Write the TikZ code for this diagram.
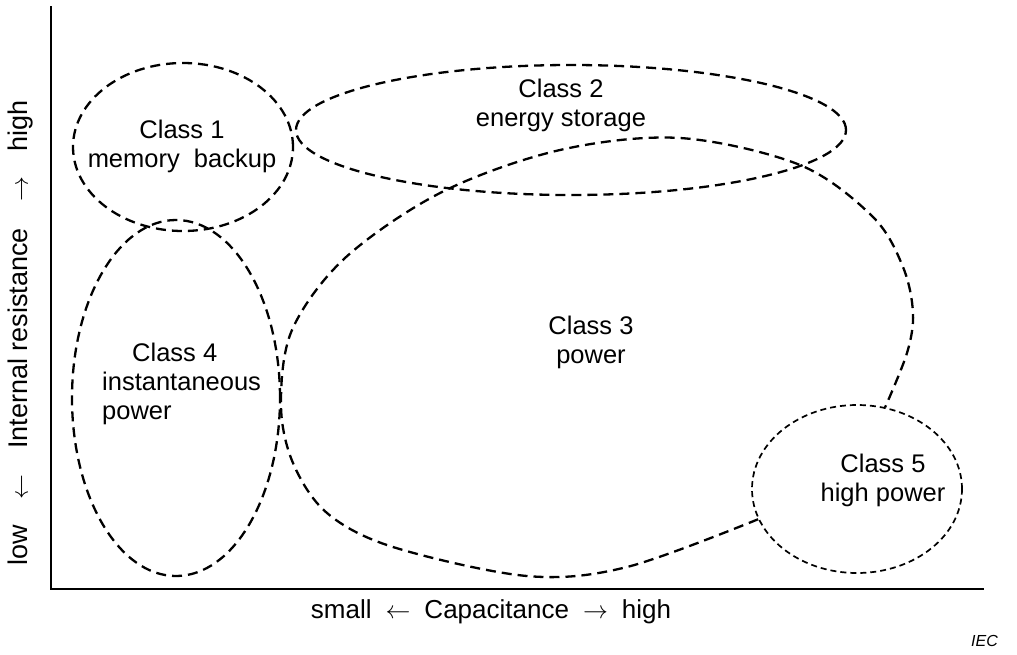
\documentclass[tikz,border=0pt]{standalone}
\usepackage{fontspec}
\setmainfont{Liberation Sans}
\usetikzlibrary{shapes.geometric}
\begin{document}
\begin{tikzpicture}[x=1pt,y=-1pt,
  region/.style={draw, ellipse, line width=2.3pt, dash pattern=on 10pt off 6pt, inner sep=0pt},
  fineregion/.style={draw, ellipse, line width=1.7pt, dash pattern=on 6pt off 4pt, inner sep=0pt},
  regionline/.style={line width=2.3pt, dash pattern=on 10pt off 6pt},
  lbl/.style={font=\fontsize{25.5}{29}\selectfont, align=center, inner sep=0pt},
  axlbl/.style={font=\fontsize{26}{30}\selectfont, inner sep=0pt},
  axis/.style={line width=2.8pt}]
\useasboundingbox (0,0) rectangle (1017,654);
% axes
\coordinate (ytop) at (51,6);
\coordinate (origin) at (51,589);
\coordinate (xend) at (984,589);
\draw[axis] (ytop) -- (origin) -- (xend);
% regions
\node[region, minimum width=220pt, minimum height=168pt] (c1) at (183,147) {};
\node[region, minimum width=550pt, minimum height=130pt] (c2) at (571,130) {};
\node[region, minimum width=208pt, minimum height=356pt] (c4) at (176,398) {};
\node[fineregion, minimum width=210pt, minimum height=168pt] (c5) at (857,489) {};
\draw[regionline] plot[smooth, tension=0.55] coordinates {(c5.197) (627,567) (527,576) (393,547) (327,513) (293,463) (281,405) (292,330) (345,258) (442,192) (560,150) (680,138) (800,165) (873,217) (903,267) (913,313) (907,353) (c5.71)};
% labels
\node[lbl] (t1) at (182,146) {Class 1\\memory\ \ backup};
\node[lbl] (t2) at (561,105) {Class 2\\energy storage};
\node[lbl] (t3) at (591,342) {Class 3\\power};
\node[lbl, align=left, anchor=west] (t4) at (102,384) {\hspace*{30pt}Class 4\\instantaneous\\power};
\node[lbl] (t5) at (883,480) {Class 5\\high power};
\node[axlbl] (xl) at (491,612) {small\hspace{14pt}$\leftarrow$\hspace{14pt}Capacitance\hspace{14pt}$\rightarrow$\hspace{14pt}high};
\node[axlbl, font=\fontsize{27}{30}\selectfont, rotate=90] (yl) at (21,333) {low\hspace{26pt}$\leftarrow$\hspace{26pt}Internal resistance\hspace{26pt}$\rightarrow$\hspace{26pt}high};
\node[font=\fontsize{16}{18}\selectfont\itshape, anchor=east, inner sep=0pt] (iec) at (998,641) {IEC};
\end{tikzpicture}
\end{document}
